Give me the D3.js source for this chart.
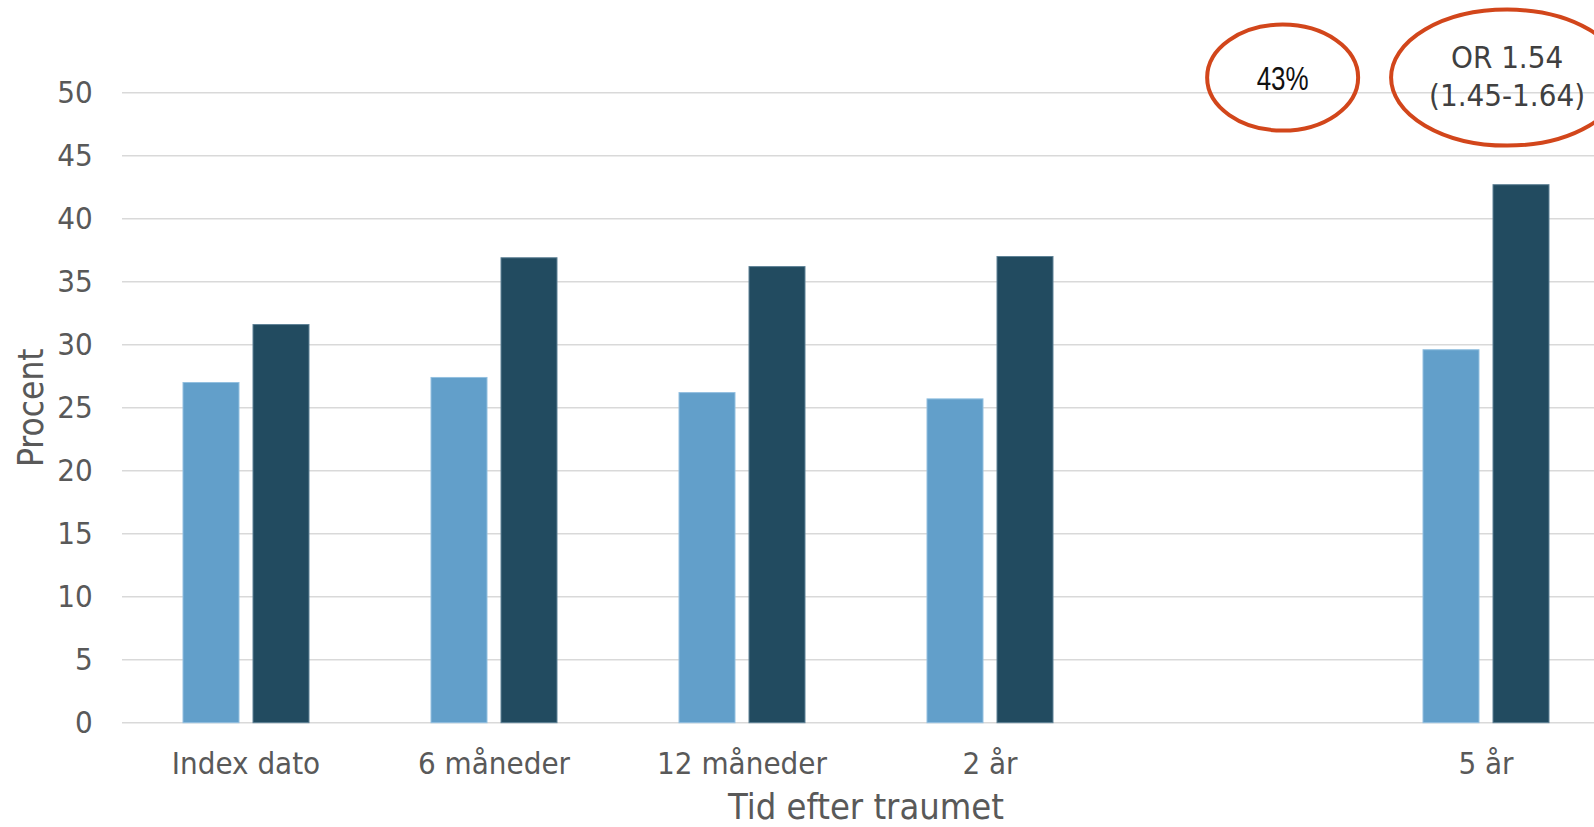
<!DOCTYPE html>
<html>
<head>
<meta charset="utf-8">
<script src="https://cdn.jsdelivr.net/npm/d3@7/dist/d3.min.js"></script>
<style>
  html, body { margin: 0; padding: 0; background: #fff; }
  svg { display: block; }
  .lbl { font-family: "DejaVu Sans Condensed", "DejaVu Sans", sans-serif; font-stretch: condensed; }
</style>
</head>
<body>
<svg id="chart" width="1594" height="827"></svg>
<script>
// Andel (%) pr. tidspunkt efter traumet, to grupper
const categories = ["Index dato", "6 måneder", "12 måneder", "2 år", "", "5 år"];
const gruppe1 = [27.0, 27.4, 26.2, 25.7, null, 29.6];
const gruppe2 = [31.6, 36.9, 36.2, 37.0, null, 42.7];
const seriesKeys = ["gruppe1", "gruppe2"];
const seriesColors = ["#629fca", "#224b60"];
const seriesStrokes = ["#93c0e0", "#5f8296"];
const yTicks = [0, 5, 10, 15, 20, 25, 30, 35, 40, 45, 50];

// Noter i toppen af diagrammet
const noteProcent = ["43%"];
const noteOR = ["OR 1.54", "(1.45-1.64)"];

const rows = categories.map((c, i) => ({ cat: c, gruppe1: gruppe1[i], gruppe2: gruppe2[i] }));

const svg = d3.select("#chart");
const left = 122, step = 248;
const x0 = d3.scaleBand()
  .domain(categories)
  .range([left, left + step * categories.length])
  .paddingInner(122 / 248)
  .paddingOuter(61 / 248);
const x1 = d3.scaleBand()
  .domain(seriesKeys)
  .range([0, x0.bandwidth()])
  .paddingInner(0.2);
const y = d3.scaleLinear().domain([0, 50]).range([722.7, 92.7]);

const center = c => x0(c) + x0.bandwidth() / 2;

// vandrette gitterlinjer
svg.append("g")
  .selectAll("line")
  .data(yTicks)
  .join("line")
  .attr("x1", x0.range()[0])
  .attr("x2", x0.range()[1])
  .attr("y1", d => y(d))
  .attr("y2", d => y(d))
  .attr("stroke", "#d9d9d9")
  .attr("stroke-width", 1.5);

// søjler
const groups = svg.append("g")
  .selectAll("g")
  .data(rows)
  .join("g")
  .attr("transform", d => `translate(${x0(d.cat)},0)`);

groups.selectAll("rect")
  .data(d => seriesKeys.map((k, i) => ({ key: k, i, v: d[k] })).filter(e => e.v != null))
  .join("rect")
  .attr("x", d => x1(d.key))
  .attr("width", x1.bandwidth())
  .attr("y", d => y(d.v))
  .attr("height", d => y(0) - y(d.v))
  .attr("fill", d => seriesColors[d.i])
  .attr("stroke", d => seriesStrokes[d.i])
  .attr("stroke-width", 1);

// y-akse
const yAxis = svg.append("g")
  .attr("transform", `translate(${left},0)`)
  .call(d3.axisLeft(y).tickValues(yTicks).tickSize(0).tickPadding(29.3));
yAxis.select(".domain").remove();
yAxis.selectAll("text")
  .attr("class", "lbl")
  .attr("fill", "#595959")
  .style("font-size", "31px");

// x-akse
const xAxis = svg.append("g")
  .attr("transform", `translate(0,${y(0)})`)
  .call(d3.axisBottom(x0).tickSize(0).tickPadding(29.3));
xAxis.select(".domain").remove();
xAxis.selectAll("text")
  .attr("class", "lbl")
  .attr("fill", "#595959")
  .style("font-size", "31px");

// aksetitler
svg.append("text")
  .attr("class", "lbl")
  .attr("x", (x0.range()[0] + x0.range()[1]) / 2)
  .attr("y", 818.5)
  .attr("text-anchor", "middle")
  .attr("fill", "#595959")
  .style("font-size", "36px")
  .text("Tid efter traumet");

svg.append("text")
  .attr("class", "lbl")
  .attr("transform", `translate(43.3,${(y(0) + y(50)) / 2}) rotate(-90)`)
  .attr("text-anchor", "middle")
  .attr("fill", "#595959")
  .style("font-size", "35px")
  .text("Procent");

// noter med røde ellipser
const ringColor = "#d2461b";
const noteY = y(51.2);

const p = svg.append("g").attr("transform", `translate(${center("") + 0.18 * step},${noteY})`);
p.append("ellipse")
  .attr("rx", 75.5).attr("ry", 53)
  .attr("fill", "none").attr("stroke", ringColor).attr("stroke-width", 4);
p.append("text")
  .attr("x", -26)
  .attr("y", 12.5)
  .attr("textLength", 52)
  .attr("lengthAdjust", "spacingAndGlyphs")
  .attr("fill", "#111")
  .style("font-family", "'Liberation Sans Narrow', 'Liberation Sans', sans-serif")
  .style("font-size", "34px")
  .text(noteProcent[0]);

const o = svg.append("g").attr("transform", `translate(${center("5 år") + 0.085 * step},${noteY})`);
o.append("ellipse")
  .attr("rx", 116).attr("ry", 68)
  .attr("fill", "none").attr("stroke", ringColor).attr("stroke-width", 4);
o.selectAll("text")
  .data(noteOR)
  .join("text")
  .attr("class", "lbl")
  .attr("y", (d, i) => -9.3 + i * 37.7)
  .attr("text-anchor", "middle")
  .attr("fill", "#404040")
  .style("font-size", "31px")
  .text(d => d);
</script>
</body>
</html>
